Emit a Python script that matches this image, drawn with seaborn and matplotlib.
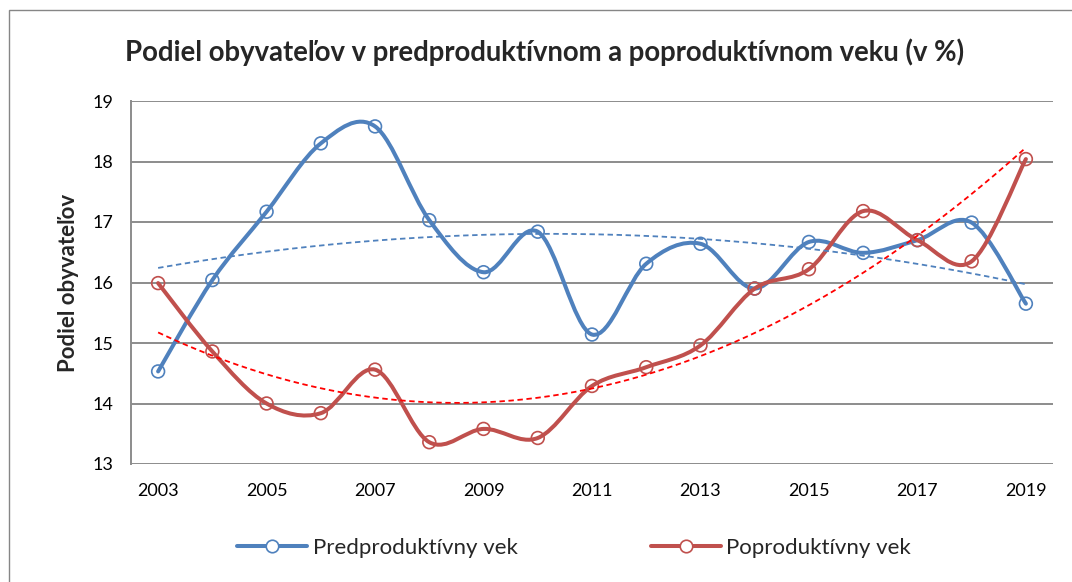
import numpy as np
import pandas as pd
import seaborn as sns
import matplotlib
import matplotlib.pyplot as plt
from matplotlib.path import Path
from matplotlib.patches import PathPatch, Rectangle
from matplotlib.lines import Line2D

# data
years = list(range(2003, 2020))
predproduktivny = [14.53, 16.04, 17.17, 18.30, 18.58, 17.03, 16.17, 16.84, 15.14,
                   16.31, 16.64, 15.90, 16.67, 16.49, 16.70, 16.99, 15.65]
poproduktivny = [15.99, 14.86, 14.00, 13.84, 14.56, 13.36, 13.58, 13.43, 14.29,
                 14.60, 14.96, 15.90, 16.22, 17.18, 16.70, 16.35, 18.04]
series_names = ["Predproduktívny vek", "Poproduktívny vek"]
series_colors = ["#4F81BD", "#C0504D"]
trend_colors = ["#4F81BD", "#FF0000"]

title = "Podiel obyvateľov v predproduktívnom a poproduktívnom veku (v %)"
ylabel = "Podiel obyvateľov"

sns.set_style("white")
plt.rcParams['font.family'] = ['Lato', 'DejaVu Sans']

pos = np.arange(len(years))
df = pd.DataFrame({"pos": np.concatenate([pos, pos]),
                   "value": predproduktivny + poproduktivny,
                   "series": [series_names[0]] * len(years) + [series_names[1]] * len(years)})


def smooth_path(x, y):
    # excel-like smoothed line (catmull-rom bezier)
    pts = np.column_stack([x, y]).astype(float)
    n = len(pts)
    verts = [pts[0]]
    codes = [Path.MOVETO]
    for i in range(n - 1):
        p0 = pts[max(i - 1, 0)]
        p1 = pts[i]
        p2 = pts[i + 1]
        p3 = pts[min(i + 2, n - 1)]
        verts += [p1 + (p2 - p0) / 6, p2 - (p3 - p1) / 6, p2]
        codes += [Path.CURVE4] * 3
    return Path(verts, codes)


fig = plt.figure(figsize=(10.72, 5.82), dpi=100)
ax = fig.add_axes([131 / 1072, 1 - 464 / 582, 922 / 1072, 363 / 582])

# outer chart border
fig.add_artist(Rectangle((9 / 1072, -0.2), 1.2, 1.2 - 10 / 582, transform=fig.transFigure,
                         fill=False, edgecolor="#868686", linewidth=1.0))

for k, name in enumerate(series_names):
    sub = df[df["series"] == name]
    ax.add_patch(PathPatch(smooth_path(sub["pos"], sub["value"]), fill=False,
                           edgecolor=series_colors[k], linewidth=2.9, zorder=3 + k,
                           capstyle="round", joinstyle="round"))
    sns.scatterplot(x=sub["pos"], y=sub["value"], ax=ax, color=series_colors[k],
                    facecolors="none", edgecolor=series_colors[k], s=85,
                    linewidth=1.2, zorder=3.5 + k, legend=False)

# polynomial (order 2) trendlines
xx = np.linspace(0, len(years) - 1, 200)
for k, name in enumerate(series_names):
    sub = df[df["series"] == name]
    coef = np.polyfit(sub["pos"], sub["value"], 2)
    sns.lineplot(x=xx, y=np.polyval(coef, xx), ax=ax, color=trend_colors[k],
                 linewidth=1.3, dashes=(3, 2), zorder=6)

ax.set_xlim(-0.5, len(years) - 0.5)
ax.set_ylim(13, 19)
ax.set_yticks(range(13, 20))
ax.set_xticks(pos[::2])
ax.set_xticklabels([str(y) for y in years[::2]])
ax.tick_params(axis="both", length=0, labelsize=13, colors="black")
ax.tick_params(axis="y", pad=13)
ax.tick_params(axis="x", pad=14)
ax.grid(axis="y", color="#8C8C8C", linewidth=1.4)
ax.grid(axis="x", visible=False)
ax.set_axisbelow(True)
for s in ["top", "right", "bottom"]:
    ax.spines[s].set_visible(False)
ax.spines["left"].set_color("#8C8C8C")
ax.spines["left"].set_linewidth(1.4)
ax.set_xlabel("")
ax.set_ylabel(ylabel, fontsize=16, fontweight="bold")
ax.yaxis.set_label_coords(-0.0683, 0.5)
ax.yaxis.label.set_va("center")

fig.text(545 / 1072, 1 - 52 / 582, title, ha="center", va="center",
         fontsize=19.8, fontweight="bold")

handles = [Line2D([], [], color=c, linewidth=2.9, marker="o", markersize=9,
                  markerfacecolor="white", markeredgecolor=c, markeredgewidth=1.2)
           for c in series_colors]
fig.legend(handles, series_names, loc="center", bbox_to_anchor=(574 / 1072, 1 - 548 / 582),
           ncol=2, frameon=False, fontsize=16, handlelength=3.15, handletextpad=0.23,
           columnspacing=6.0)

plt.savefig("out.png", dpi=100)
